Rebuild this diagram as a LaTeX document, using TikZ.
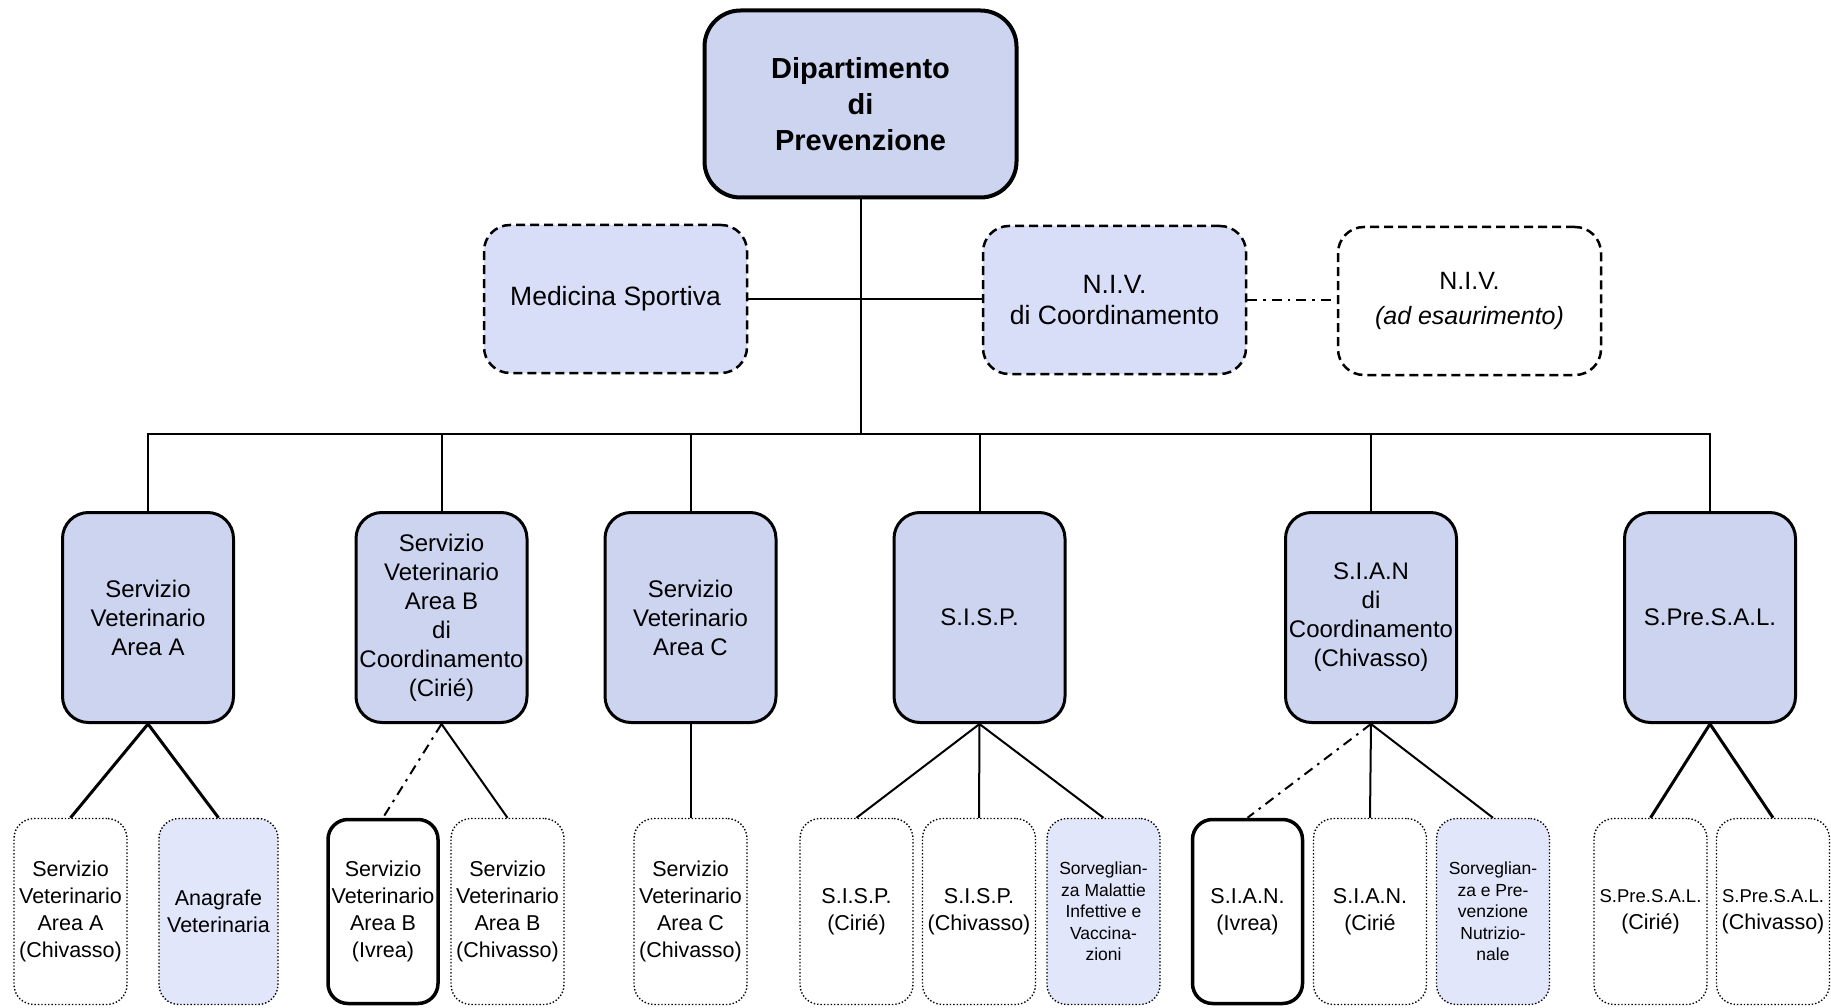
\documentclass[tikz,border=0pt]{standalone}
\usepackage{fontspec}
\setmainfont{Liberation Sans}
\definecolor{marbleC}{RGB}{204,212,240}
\definecolor{gridC}{RGB}{216,222,247}
\definecolor{paleC}{RGB}{226,230,250}
\begin{document}
\begin{tikzpicture}[x=1pt,y=-1pt,
  every node/.style={inner sep=0pt, align=center, text=black},
  topbox/.style={draw, line width=4pt, rounded corners=36pt, fill=marbleC,
     minimum width=312pt, minimum height=187pt, font=\bfseries\fontsize{29}{36}\selectfont},
  midbox/.style={draw, line width=2.5pt, dash pattern=on 9pt off 5pt, rounded corners=26pt,
     minimum width=263pt, minimum height=148pt, font=\fontsize{26.5}{31}\selectfont},
  lvtwo/.style={draw, line width=3pt, rounded corners=26pt, fill=marbleC,
     minimum width=171pt, minimum height=210pt, font=\fontsize{24}{29}\selectfont},
  lvthree/.style={draw, line width=1.4pt, dotted, rounded corners=20pt,
     minimum width=113pt, minimum height=186pt, font=\fontsize{21.5}{27}\selectfont},
  lvthick/.style={draw, line width=3.5pt, rounded corners=20pt,
     minimum width=110pt, minimum height=184pt, font=\fontsize{21.5}{27}\selectfont},
  smalltxt/.style={font=\fontsize{17.5}{21.5}\selectfont},
  conn/.style={line width=2pt},
  connb/.style={line width=3pt},
  dashdot/.style={line width=2.5pt, dash pattern=on 10pt off 6pt on 2.5pt off 6pt},
]
\useasboundingbox (0,0) rectangle (1831,1008);
\fill[white] (0,0) rectangle (1831,1008);

% top
\node[topbox] (dip) at (860.5,104) {Dipartimento\\di\\Prevenzione};

% middle row
\node[midbox, fill=gridC] (med) at (615.5,299) {Medicina Sportiva};
\node[midbox, fill=gridC] (nivc) at (1114.5,300) {N.I.V.\\di Coordinamento};
\node[midbox, fill=white, font=\fontsize{25}{35}\selectfont] (nive) at (1469.5,301) {N.I.V.\\\textit{(ad esaurimento)}};

% level 2
\node[lvtwo] (sva) at (148,617.5) {Servizio\\Veterinario\\Area A};
\node[lvtwo] (svb) at (441.5,617.5) {Servizio\\Veterinario\\Area B\\di\\Coordinamento\\(Cirié)};
\node[lvtwo] (svc) at (690.5,617.5) {Servizio\\Veterinario\\Area C};
\node[lvtwo] (sisp) at (979.5,617.5) {S.I.S.P.};
\node[lvtwo] (sian) at (1371,617.5) {S.I.A.N\\di\\Coordinamento\\(Chivasso)};
\node[lvtwo] (spre) at (1710,617.5) {S.Pre.S.A.L.};

% level 3
\node[lvthree] (a1) at (70.5,911.5) {Servizio\\Veterinario\\Area A\\(Chivasso)};
\node[lvthree, fill=paleC, minimum width=119pt] (a2) at (218.5,911.5) {Anagrafe\\Veterinaria};
\node[lvthick] (b1) at (383,911.5) {Servizio\\Veterinario\\Area B\\(Ivrea)};
\node[lvthree] (b2) at (507.5,911.5) {Servizio\\Veterinario\\Area B\\(Chivasso)};
\node[lvthree] (c1) at (690.5,911.5) {Servizio\\Veterinario\\Area C\\(Chivasso)};
\node[lvthree] (s1) at (856.5,911.5) {S.I.S.P.\\(Cirié)};
\node[lvthree] (s2) at (979,911.5) {S.I.S.P.\\(Chivasso)};
\node[lvthree, fill=paleC, smalltxt] (s3) at (1103.5,911.5) {Sorveglian-\\za Malattie\\Infettive e\\Vaccina-\\zioni};
\node[lvthick] (n1) at (1247.5,911.5) {S.I.A.N.\\(Ivrea)};
\node[lvthree] (n2) at (1370,911.5) {S.I.A.N.\\(Cirié};
\node[lvthree, fill=paleC, smalltxt] (n3) at (1493,911.5) {Sorveglian-\\za e Pre-\\venzione\\Nutrizio-\\nale};
\node[lvthree] (p1) at (1650.5,911.5) {{\fontsize{18.5}{24}\selectfont S.Pre.S.A.L.}\\(Cirié)};
\node[lvthree] (p2) at (1773,911.5) {{\fontsize{18.5}{24}\selectfont S.Pre.S.A.L.}\\(Chivasso)};

% connectors top
\coordinate (bus) at (860.5,434);
\draw[conn] (dip.south) -- (bus);
\draw[conn] (med.east) -- (med.east -| nivc.west);
\draw[dashdot] (nivc.east) -- (nivc.east -| nive.west);
\draw[conn] (sva.north) -- (sva.north |- bus) -- (spre.north |- bus) -- (spre.north);
\foreach \n in {svb,svc,sisp,sian}
  \draw[conn] (\n.north) -- (\n.north |- bus);

% level 2 -> level 3
\draw[connb] (sva.south) -- (a1.north);
\draw[connb] (sva.south) -- (a2.north);
\draw[dashdot, line width=2pt] (svb.south) -- (b1.north);
\draw[conn] (svb.south) -- (b2.north);
\draw[conn] (svc.south) -- (c1.north);
\draw[conn] (sisp.south) -- (s1.north);
\draw[conn] (sisp.south) -- (s2.north);
\draw[conn] (sisp.south) -- (s3.north);
\draw[dashdot, line width=2pt] (sian.south) -- (n1.north);
\draw[conn] (sian.south) -- (n2.north);
\draw[conn] (sian.south) -- (n3.north);
\draw[connb] (spre.south) -- (p1.north);
\draw[connb] (spre.south) -- (p2.north);
\end{tikzpicture}
\end{document}
